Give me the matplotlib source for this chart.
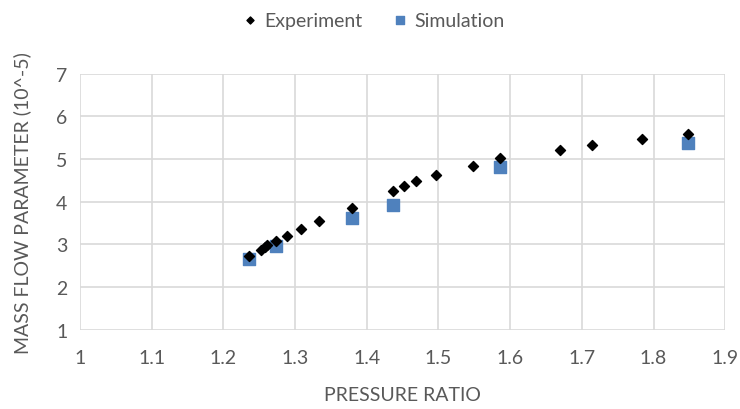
import matplotlib
matplotlib.use('Agg')
import matplotlib.pyplot as plt

exp_pr = [1.236, 1.252, 1.258, 1.261, 1.273, 1.289, 1.308, 1.334, 1.379, 1.437,
          1.452, 1.469, 1.497, 1.548, 1.586, 1.669, 1.714, 1.784, 1.848]
exp_mfp = [2.72, 2.86, 2.94, 2.98, 3.09, 3.20, 3.36, 3.55, 3.85, 4.24,
           4.37, 4.48, 4.63, 4.83, 5.02, 5.22, 5.32, 5.48, 5.59]

sim_pr = [1.236, 1.274, 1.379, 1.437, 1.586, 1.848]
sim_mfp = [2.66, 2.96, 3.62, 3.93, 4.81, 5.37]

xticks = [1, 1.1, 1.2, 1.3, 1.4, 1.5, 1.6, 1.7, 1.8, 1.9]
yticks = [1, 2, 3, 4, 5, 6, 7]

plt.rcParams['font.family'] = ['Lato', 'DejaVu Sans']
txt = '#595959'
grid = '#d9d9d9'

fig = plt.figure(figsize=(7.4, 4.1), dpi=100)
ax = fig.add_axes([0.108, 0.193, 0.872, 0.625])

ax.scatter(sim_pr, sim_mfp, marker='s', s=70, color='#4f81bd', zorder=3, label='Simulation')
ax.scatter(exp_pr, exp_mfp, marker='D', s=26, color='black', zorder=4, label='Experiment')

ax.set_xlim(1, 1.9)
ax.set_ylim(1, 7)
ax.set_xticks(xticks)
ax.set_xticklabels([f'{v:g}' for v in xticks])
ax.set_yticks(yticks)
ax.grid(True, color=grid, lw=1.2)
ax.set_axisbelow(True)
for s in ax.spines.values():
    s.set_visible(False)
ax.tick_params(length=0, labelsize=14, colors=txt)
ax.tick_params(axis='x', pad=14)
ax.tick_params(axis='y', pad=9)

ax.set_xlabel('PRESSURE RATIO', fontsize=14, color=txt, labelpad=14)
ax.set_ylabel('MASS FLOW PARAMETER (10^-5)', fontsize=14, color=txt, labelpad=18)

h, l = ax.get_legend_handles_labels()
fig.legend(h[::-1], l[::-1], loc='upper center', bbox_to_anchor=(0.5, 1.012), ncol=2,
           frameon=False, fontsize=14, labelcolor=txt, handletextpad=0.0,
           columnspacing=1.2, markerscale=0.7, handlelength=1.5)

fig.savefig('out.png', dpi=100)
